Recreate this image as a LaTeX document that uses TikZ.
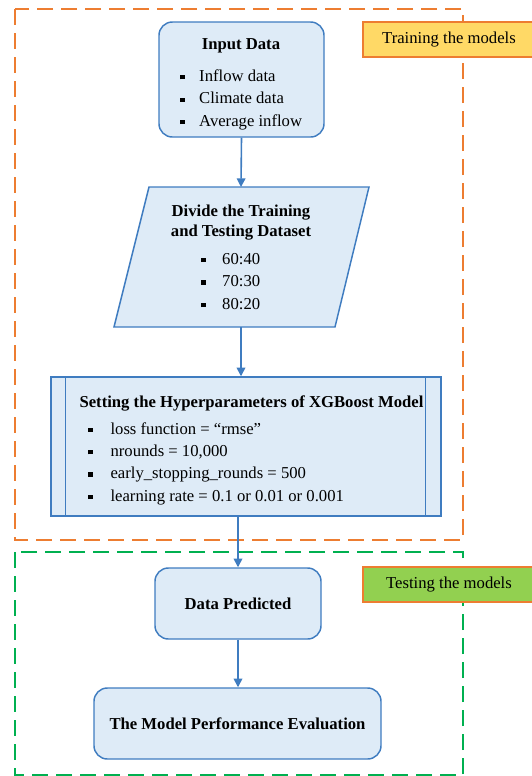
\documentclass[tikz,border=0pt]{standalone}
\usepackage{fontspec}
\setmainfont{Liberation Serif}
\usetikzlibrary{arrows.meta}
\definecolor{boxfill}{HTML}{DEEBF7}
\definecolor{boxline}{HTML}{3F7CC0}
\definecolor{trainorange}{HTML}{ED7D31}
\definecolor{testgreen}{HTML}{00B050}
\definecolor{tagyellow}{HTML}{FFD966}
\definecolor{taggreen}{HTML}{92D050}
\newcommand{\sqbul}[1][11pt]{\rule[1.6pt]{3.2pt}{3.2pt}\hspace{#1}}
\tikzset{
  flowbox/.style={draw=boxline,fill=boxfill,line width=1.1pt,inner sep=0pt},
  roundbox/.style={flowbox,rounded corners=10pt},
  stagebox/.style={line width=1.5pt,dash pattern=on 12pt off 6pt},
  tagbox/.style={draw=trainorange,line width=1.1pt,minimum width=129pt,minimum height=26.25pt,inner sep=0pt},
  titletext/.style={font=\fontsize{12.5}{15}\selectfont\bfseries,align=center,inner sep=0pt},
  itemlist/.style={align=left,anchor=north west,inner sep=0pt,font=\fontsize{12.5}{16.8}\selectfont},
  flowarrow/.style={draw=boxline,line width=1.2pt,-{Triangle[length=6.5pt,width=6.5pt]}}
}
\begin{document}
\begin{tikzpicture}[x=0.75pt,y=-0.75pt,font=\fontsize{12.5}{14}\selectfont]
\useasboundingbox (0,0) rectangle (532,776);
\draw[stagebox,trainorange] (15,9) rectangle (463,540);
\draw[stagebox,testgreen] (15,552) rectangle (463,775);
\node[tagbox,fill=tagyellow] (traintag) at (449,39.5) {Training the models};
\node[tagbox,fill=taggreen] (testtag) at (449,584.5) {Testing the models};

\node[roundbox,minimum width=123.75pt,minimum height=86.25pt] (input) at (241.5,79.5) {};
\node[titletext] (inputtitle) at (241,46) {Input Data};
\node[itemlist] (inputlist) at (180,69.5) {\sqbul Inflow data\\ \sqbul Climate data\\ \sqbul Average inflow};

\draw[flowbox] (149,187) -- (369,187) -- (335,327) -- (114,327) -- cycle;
\coordinate (splittop) at (241,187);
\coordinate (splitbot) at (241,327);
\node[titletext] (splittitle) at (241,223) {Divide the Training\\ and Testing Dataset};
\node[itemlist] (splitlist) at (201,253) {\sqbul[12.5pt]60:40\\ \sqbul[12.5pt]70:30\\ \sqbul[12.5pt]80:20};

\node[flowbox,minimum width=292.5pt,minimum height=104.25pt] (hyper) at (246,446.5) {};
\draw[boxline,line width=1.1pt] ([xshift=11.25pt]hyper.north west) -- ([xshift=11.25pt]hyper.south west);
\draw[boxline,line width=1.1pt] ([xshift=-12pt]hyper.north east) -- ([xshift=-12pt]hyper.south east);
\node[titletext] (hypertitle) at (251.5,403) {Setting the Hyperparameters of XGBoost Model};
\node[itemlist] (hyperlist) at (88,422) {\sqbul[13.5pt]loss function = ``rmse''\\ \sqbul[13.5pt]nrounds = 10,000\\ \sqbul[13.5pt]early\_stopping\_rounds = 500\\ \sqbul[13.5pt]learning rate = 0.1 or 0.01 or 0.001};

\node[roundbox,font=\fontsize{12.5}{14}\selectfont\bfseries,minimum width=124.5pt,minimum height=53.25pt] (pred) at (238,603.5) {Data Predicted};
\node[roundbox,font=\fontsize{12.5}{14}\selectfont\bfseries,minimum width=215.25pt,minimum height=53.25pt] (eval) at (237.5,723.5) {The Model Performance Evaluation};

\draw[flowarrow] (input.south) -- (splittop);
\draw[flowarrow] (splitbot) -- (splitbot |- hyper.north);
\draw[flowarrow] (hyper.south -| pred.north) -- (pred.north);
\draw[flowarrow] (pred.south) -- (pred.south |- eval.north);
\end{tikzpicture}
\end{document}
